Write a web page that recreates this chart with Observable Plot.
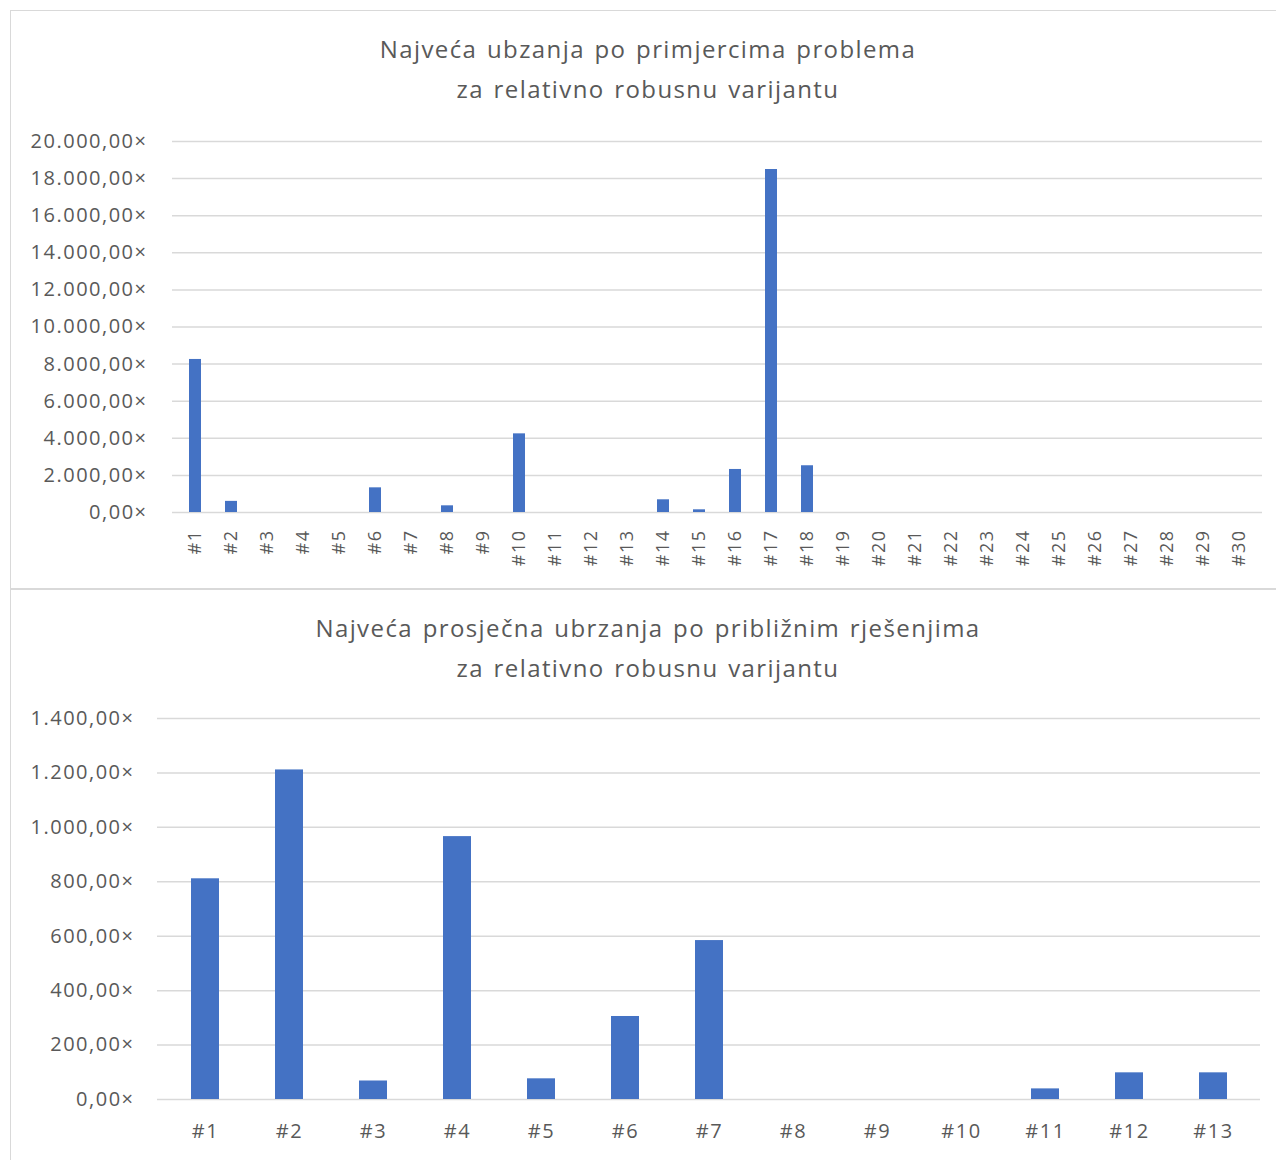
<!DOCTYPE html>
<html>
<head>
<meta charset="utf-8">
<script src="https://cdn.jsdelivr.net/npm/d3@7"></script>
<script src="https://cdn.jsdelivr.net/npm/@observablehq/plot@0.6"></script>
<style>
  html, body { margin: 0; padding: 0; background: #fff; }
  body { width: 1276px; height: 1160px; position: relative; overflow: hidden; font-family: "Open Sans", Lato, sans-serif; color: #595959; }
  .box { position: absolute; border: 1px solid #d9d9d9; box-sizing: border-box; background: #fff; }
  .title { position: absolute; left: 0; width: 100%; text-align: center; font-size: 24px; line-height: 40px; color: #595959; letter-spacing: 1.4px; word-spacing: 2px; }
  .chart { position: absolute; }
</style>
</head>
<body>
<div class="box" id="box1" style="left:10px; top:10px; width:1276px; height:579px;">
  <div class="title" style="top:18px;">Najveća ubzanja po primjercima problema<br>za relativno robusnu varijantu</div>
</div>
<div class="box" id="box2" style="left:10px; top:589px; width:1276px; height:580px;">
  <div class="title" style="top:18px;">Najveća prosječna ubrzanja po približnim rješenjima<br>za relativno robusnu varijantu</div>
</div>
<div class="chart" id="c1" style="left:10px; top:120px;"></div>
<div class="chart" id="c2" style="left:10px; top:700px;"></div>
<script>
const problems = ["#1","#2","#3","#4","#5","#6","#7","#8","#9","#10","#11","#12","#13","#14","#15","#16","#17","#18","#19","#20","#21","#22","#23","#24","#25","#26","#27","#28","#29","#30"];
const maxSpeedup = [8250, 600, 0, 0, 0, 1330, 0, 360, 0, 4240, 0, 0, 0, 685, 145, 2320, 18490, 2520, 0, 0, 0, 0, 0, 0, 0, 0, 0, 0, 0, 0];
const yTicks1 = [0, 2000, 4000, 6000, 8000, 10000, 12000, 14000, 16000, 18000, 20000];

const solutions = ["#1","#2","#3","#4","#5","#6","#7","#8","#9","#10","#11","#12","#13"];
const avgSpeedup = [811, 1211, 68, 966, 76, 305, 584, 0, 0, 0, 39, 98, 98];
const yTicks2 = [0, 200, 400, 600, 800, 1000, 1200, 1400];

const loc = d3.formatLocale({decimal: ",", thousands: ".", grouping: [3], currency: ["", ""]});
const f2 = loc.format(",.2f");
const fmt = d => f2(d) + "×";

const data1 = problems.map((c, i) => ({c, v: maxSpeedup[i]}));
const data2 = solutions.map((c, i) => ({c, v: avgSpeedup[i]}));

const barColor = "#4472C4";
const gridColor = "#d9d9d9";
const font = "'Open Sans', Lato, sans-serif";
const svgStyle = {fontFamily: font, color: "#595959", background: "transparent", letterSpacing: "1.5px"};

const p1 = Plot.plot({
  width: 1266,
  height: 465,
  marginTop: 21,
  marginBottom: 73,
  marginLeft: 162,
  marginRight: 14,
  style: svgStyle,
  x: {domain: problems, paddingInner: 0.67, paddingOuter: 0.335, label: null},
  y: {domain: [0, 20000], label: null},
  marks: [
    Plot.gridY(yTicks1, {stroke: gridColor, strokeOpacity: 1, strokeWidth: 1.5}),
    Plot.barY(data1, {x: "c", y: "v", fill: barColor}),
    Plot.axisY(yTicks1, {tickSize: 0, tickPadding: 25, tickFormat: fmt, fontSize: 20, fill: "#595959"}),
    Plot.axisX({tickSize: 0, tickPadding: 17, tickRotate: -90, fontSize: 18, fill: "#595959"})
  ]
});
document.getElementById("c1").append(p1);

const p2 = Plot.plot({
  width: 1266,
  height: 460,
  marginTop: 18,
  marginBottom: 61,
  marginLeft: 147,
  marginRight: 16,
  style: svgStyle,
  x: {domain: solutions, paddingInner: 0.67, paddingOuter: 0.335, label: null},
  y: {domain: [0, 1400], label: null},
  marks: [
    Plot.gridY(yTicks2, {stroke: gridColor, strokeOpacity: 1, strokeWidth: 1.5}),
    Plot.barY(data2, {x: "c", y: "v", fill: barColor}),
    Plot.axisY(yTicks2, {tickSize: 0, tickPadding: 23, tickFormat: fmt, fontSize: 20, fill: "#595959"}),
    Plot.axisX({tickSize: 0, tickPadding: 24, fontSize: 20, fill: "#595959"})
  ]
});
document.getElementById("c2").append(p2);
</script>
</body>
</html>
